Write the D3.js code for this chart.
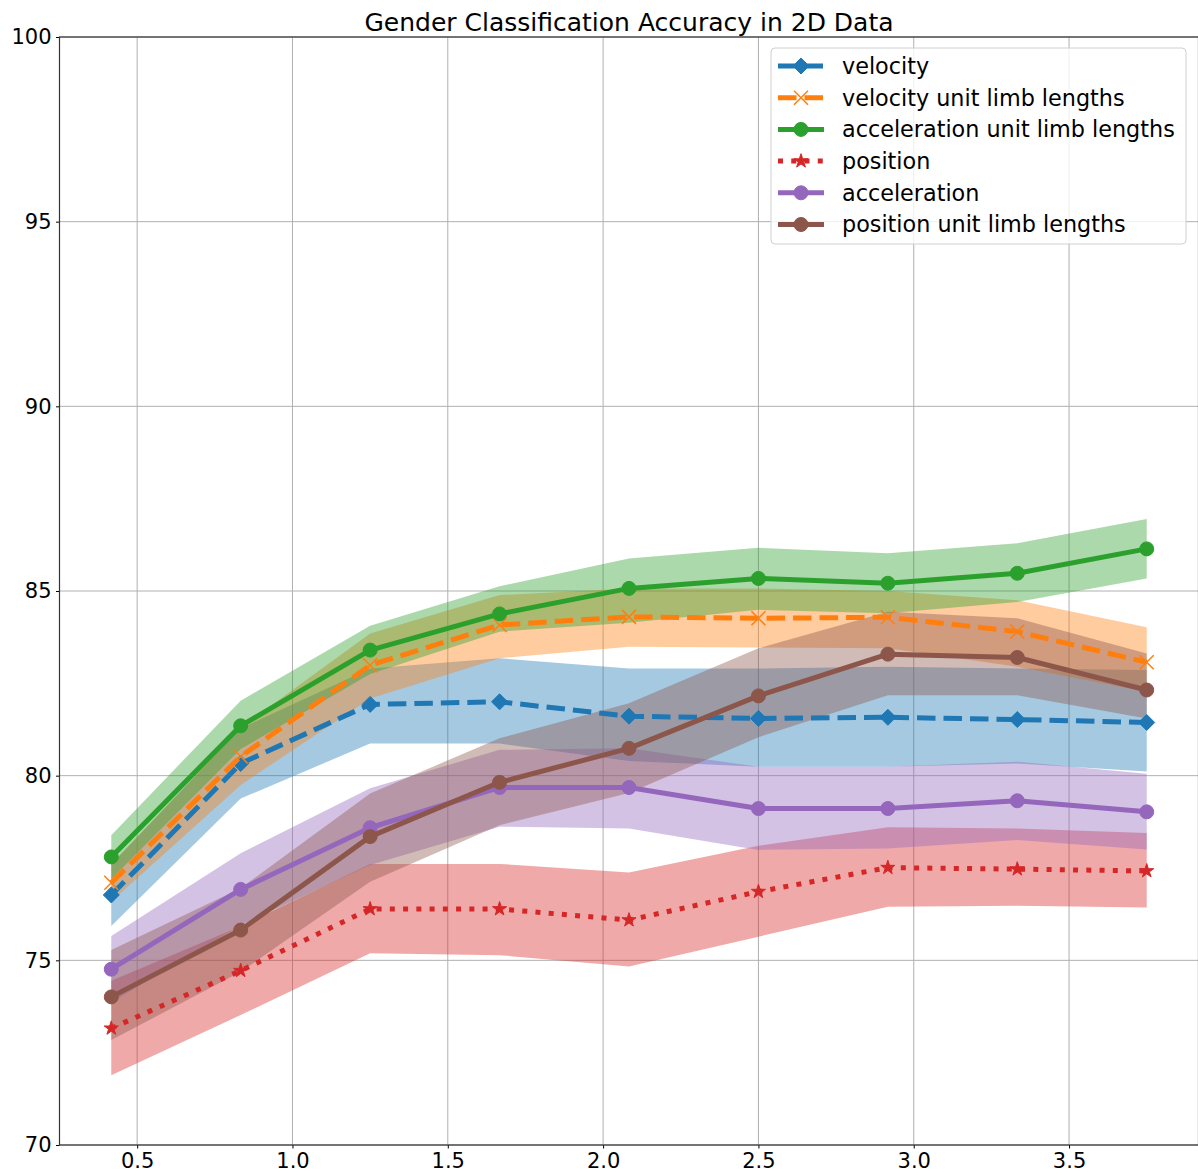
<!DOCTYPE html>
<html>
<head>
<meta charset="utf-8">
<script src="https://cdn.jsdelivr.net/npm/d3@7"></script>
<style>
body { margin: 0; background: #fff; }
svg { font-family: "DejaVu Sans", sans-serif; }
</style>
</head>
<body>
<div id="chart"></div>
<script>
var xValues = [0.4167, 0.8333, 1.25, 1.6667, 2.0833, 2.5, 2.9167, 3.3333, 3.75];

var velocity   = [76.77, 80.33, 81.93, 82.00, 81.61, 81.55, 81.58, 81.52, 81.44];
var velocityLo = [75.93, 79.38, 80.87, 80.87, 80.40, 80.24, 80.24, 80.33, 80.11];
var velocityHi = [77.60, 81.28, 82.90, 83.18, 82.90, 82.90, 82.95, 82.90, 82.86];

var velocityUnit   = [77.10, 80.52, 82.99, 84.08, 84.30, 84.26, 84.29, 83.90, 83.07];
var velocityUnitLo = [76.59, 79.75, 82.09, 83.18, 83.49, 83.47, 83.45, 82.95, 82.27];
var velocityUnitHi = [77.60, 81.30, 83.85, 84.89, 85.07, 85.07, 85.00, 84.75, 84.02];

var accelUnit   = [77.80, 81.35, 83.40, 84.38, 85.07, 85.34, 85.21, 85.48, 86.14];
var accelUnitLo = [77.20, 80.72, 82.75, 83.90, 84.14, 84.49, 84.40, 84.70, 85.34];
var accelUnitHi = [78.39, 82.03, 84.06, 85.13, 85.88, 86.17, 86.02, 86.29, 86.95];

var position   = [73.16, 74.72, 76.39, 76.39, 76.09, 76.86, 77.51, 77.47, 77.42];
var positionLo = [71.89, 73.52, 75.19, 75.14, 74.83, 75.64, 76.45, 76.48, 76.43];
var positionHi = [74.45, 75.92, 77.61, 77.61, 77.38, 78.10, 78.60, 78.57, 78.45];

var accel   = [74.76, 76.92, 78.59, 79.68, 79.68, 79.11, 79.11, 79.32, 79.02];
var accelLo = [73.86, 75.96, 77.58, 78.62, 78.57, 77.99, 78.03, 78.26, 78.00];
var accelHi = [75.66, 77.90, 79.66, 80.70, 80.74, 80.24, 80.24, 80.38, 80.05];

var positionUnit   = [74.01, 75.82, 78.35, 79.82, 80.74, 82.16, 83.29, 83.20, 82.32];
var positionUnitLo = [72.84, 74.69, 77.13, 78.66, 79.53, 81.04, 82.18, 82.18, 81.55];
var positionUnitHi = [75.28, 76.95, 79.52, 81.01, 81.96, 83.45, 84.44, 84.26, 83.31];

var seriesNames = ['velocity', 'velocity unit limb lengths', 'acceleration unit limb lengths',
	'position', 'acceleration', 'position unit limb lengths'];
var seriesColors = ['#1f77b4', '#ff7f0e', '#2ca02c', '#d62728', '#9467bd', '#8c564b'];

var yTicks = [70, 75, 80, 85, 90, 95, 100];
var xTicks = [0.5, 1.0, 1.5, 2.0, 2.5, 3.0, 3.5];
var title = 'Gender Classification Accuracy in 2D Data';

var series = [
	{ mean: velocity, lo: velocityLo, hi: velocityHi, marker: 'diamond', dash: 'dashed' },
	{ mean: velocityUnit, lo: velocityUnitLo, hi: velocityUnitHi, marker: 'x', dash: 'dashed' },
	{ mean: accelUnit, lo: accelUnitLo, hi: accelUnitHi, marker: 'circle', dash: null },
	{ mean: position, lo: positionLo, hi: positionHi, marker: 'star', dash: 'dotted' },
	{ mean: accel, lo: accelLo, hi: accelHi, marker: 'circle', dash: null },
	{ mean: positionUnit, lo: positionUnitLo, hi: positionUnitHi, marker: 'circle', dash: null }
];
series.forEach(function(s, i) {
	s.name = seriesNames[i];
	s.color = seriesColors[i];
});

var W = 1198, H = 1175;
var padL = 59.5, padR = 1198.5, padT = 37, padB = 1145;
var lw = 5;

var x = d3.scaleLinear().domain([0.25, 3.9167]).range([padL, padR]);
var y = d3.scaleLinear().domain([70, 100]).range([padB, padT]);

var svg = d3.select('#chart').append('svg')
	.attr('width', W).attr('height', H);

// grid
svg.append('g').selectAll('line')
	.data(xTicks).enter().append('line')
	.attr('x1', function(d) { return x(d); }).attr('x2', function(d) { return x(d); })
	.attr('y1', padT).attr('y2', padB)
	.attr('stroke', '#b0b0b0').attr('stroke-width', 1);
svg.append('g').selectAll('line')
	.data(yTicks).enter().append('line')
	.attr('x1', padL).attr('x2', padR)
	.attr('y1', function(d) { return y(d); }).attr('y2', function(d) { return y(d); })
	.attr('stroke', '#b0b0b0').attr('stroke-width', 1);

function dashFor(s) {
	if (s.dash == 'dashed') return (3.7 * lw) + ',' + (1.6 * lw);
	if (s.dash == 'dotted') return lw + ',' + (1.65 * lw);
	return null;
}

function markerPath(type) {
	if (type == 'diamond') return 'M0,-8L8,0L0,8L-8,0Z';
	if (type == 'circle') return d3.symbol().type(d3.symbolCircle).size(Math.PI * 49)();
	if (type == 'star') return d3.symbol().type(d3.symbolStar).size(62)();
	return 'M-7,-7L7,7M7,-7L-7,7';
}

function drawMarker(g, type, color, px, py) {
	var p = g.append('path')
		.attr('d', markerPath(type))
		.attr('transform', 'translate(' + px + ',' + py + ')');
	if (type == 'x')
		p.attr('fill', 'none').attr('stroke', color).attr('stroke-width', 1.5);
	else
		p.attr('fill', color).attr('stroke', color).attr('stroke-width', 1);
}

var area = d3.area()
	.x(function(d, i) { return x(xValues[i]); })
	.y0(function(d) { return y(d[0]); })
	.y1(function(d) { return y(d[1]); });

var line = d3.line()
	.x(function(d, i) { return x(xValues[i]); })
	.y(function(d) { return y(d); });

var bands = svg.append('g');
series.forEach(function(s) {
	bands.append('path')
		.attr('d', area(s.lo.map(function(v, i) { return [v, s.hi[i]]; })))
		.attr('fill', s.color)
		.attr('fill-opacity', 0.4);
});

var lines = svg.append('g');
series.forEach(function(s) {
	lines.append('path')
		.attr('d', line(s.mean))
		.attr('fill', 'none')
		.attr('stroke', s.color)
		.attr('stroke-width', lw)
		.attr('stroke-linejoin', 'round')
		.attr('stroke-dasharray', dashFor(s));
	var mg = lines.append('g');
	s.mean.forEach(function(v, i) {
		drawMarker(mg, s.marker, s.color, x(xValues[i]), y(v));
	});
});

// axes
var yAxis = svg.append('g')
	.attr('transform', 'translate(' + padL + ',0)')
	.call(d3.axisLeft(y).tickValues(yTicks).tickSize(3.5).tickPadding(4.5).tickFormat(d3.format('d')));
var xAxis = svg.append('g')
	.attr('transform', 'translate(0,' + padB + ')')
	.call(d3.axisBottom(x).tickValues(xTicks).tickSize(3.5).tickPadding(4.5).tickFormat(d3.format('.1f')));
[xAxis, yAxis].forEach(function(a) {
	a.select('.domain').remove();
	a.selectAll('text').attr('font-size', '21px').attr('fill', '#000')
		.attr('font-family', '"DejaVu Sans", sans-serif');
	a.selectAll('line').attr('stroke', '#000');
});

svg.append('rect')
	.attr('x', padL).attr('y', padT)
	.attr('width', padR - padL).attr('height', padB - padT)
	.attr('fill', 'none').attr('stroke', '#333').attr('stroke-width', 1.2);

svg.append('text')
	.attr('x', (padL + padR) / 2).attr('y', 30.5)
	.attr('text-anchor', 'middle')
	.attr('font-size', '25px')
	.text(title);

// legend
var legend = svg.append('g');
legend.append('rect')
	.attr('x', 771).attr('y', 48).attr('width', 415).attr('height', 196)
	.attr('rx', 4)
	.attr('fill', '#fff').attr('fill-opacity', 0.8)
	.attr('stroke', '#d0d0d0').attr('stroke-width', 1);

series.forEach(function(s, i) {
	var ly = 66 + i * 31.7;
	legend.append('line')
		.attr('x1', 778).attr('x2', 824)
		.attr('y1', ly).attr('y2', ly)
		.attr('stroke', s.color).attr('stroke-width', lw)
		.attr('stroke-dasharray', dashFor(s));
	drawMarker(legend, s.marker, s.color, 801, ly);
	legend.append('text')
		.attr('x', 842).attr('y', ly)
		.attr('dy', '0.35em')
		.attr('font-size', '22.3px')
		.text(s.name);
});
</script>
</body>
</html>
